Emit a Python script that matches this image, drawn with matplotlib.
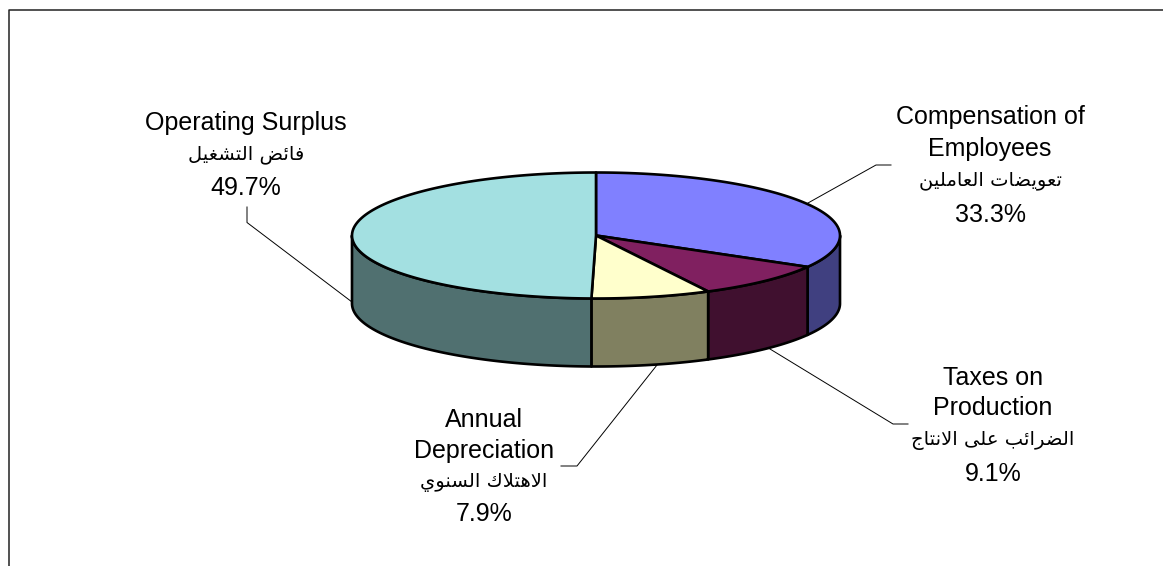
import numpy as np
import matplotlib
matplotlib.use('Agg')
import matplotlib.pyplot as plt
from matplotlib.patches import Polygon

plt.rcParams['font.family'] = ['Liberation Sans', 'DejaVu Sans']

# pie slices, clockwise from the top
names = ['Compensation of\nEmployees', 'Taxes on\nProduction', 'Annual\nDepreciation', 'Operating Surplus']
names_ar = ['تعويضات العاملين', 'الضرائب على الانتاج', 'الاهتلاك السنوي', 'فائض التشغيل']
values = [33.3, 9.1, 7.9, 49.7]
top_colors = ['#8080FF', '#802060', '#FFFFCC', '#A3E0E1']
side_colors = ['#404080', '#40102F', '#808060', '#507070']

# pixel layout of the pie
cx, cy = 596, 235.5
rx, ry = 244, 63
depth = 68

# label centres (x, y of each line) and leader lines
label_x = [990, 993, 484, 246]
label_y = [[117, 149, 180, 215], [378, 408, 441, 474], [420, 451, 482, 514], [123, 155, 188]]
leaders = [[(891, 165), (876, 165), (808, 203)],
           [(908, 424), (893, 424), (770, 349)],
           [(561, 466), (577, 466), (657, 365)],
           [(247, 207), (247, 222.5), (352, 302)]]

# presentation forms: isolated, final, initial, medial
forms = {'ا': (0xFE8D, 0xFE8E), 'ر': (0xFEAD, 0xFEAE), 'و': (0xFEED, 0xFEEE), 'ى': (0xFEEF, 0xFEF0)}
for ch, code in zip('ئبتجسشضعغفكلمنهي',
                    [0xFE89, 0xFE8F, 0xFE95, 0xFE9D, 0xFEB1, 0xFEB5, 0xFEBD, 0xFEC9,
                     0xFECD, 0xFED1, 0xFED9, 0xFEDD, 0xFEE1, 0xFEE5, 0xFEE9, 0xFEF1]):
    forms[ch] = (code, code + 1, code + 2, code + 3)


# matplotlib does no arabic shaping, so pick the glyphs here and reverse them
def shape(text):
    out = []
    prev_joins = False
    i = 0
    while i < len(text):
        ch = text[i]
        if ch == ' ':
            out.append(ch)
            prev_joins = False
            i += 1
            continue
        if ch == 'ل' and i + 1 < len(text) and text[i + 1] == 'ا':
            out.append(chr(0xFEFC if prev_joins else 0xFEFB))
            prev_joins = False
            i += 2
            continue
        f = forms[ch]
        next_letter = i + 1 < len(text) and text[i + 1] != ' '
        if len(f) == 4 and next_letter:
            out.append(chr(f[3] if prev_joins else f[2]))
            prev_joins = True
        else:
            out.append(chr(f[1] if prev_joins else f[0]))
            prev_joins = False
        i += 1
    return ''.join(out[::-1])


def arc(a, b, dy=0):
    t = np.radians(np.linspace(a, b, 120))
    return np.column_stack([cx + rx * np.sin(t), cy + dy - ry * np.cos(t)])


fig = plt.figure(figsize=(11.63, 5.66), dpi=100)
ax = fig.add_axes([0, 0, 1, 1])
ax.set_xlim(0, 1163)
ax.set_ylim(566, 0)
ax.axis('off')

# outer frame
ax.plot([8.5, 8.5, 1163], [566, 10, 10], color='#222222', lw=1.1)

edges = np.concatenate([[0], np.cumsum(values)]) / sum(values) * 360

# walls first, only the part facing the viewer
for i in range(len(values)):
    a = max(edges[i], 90)
    b = min(edges[i + 1], 270)
    if a < b:
        pts = np.vstack([arc(a, b), arc(a, b, depth)[::-1]])
        ax.add_patch(Polygon(pts, closed=True, fc=side_colors[i], ec='black', lw=1.9, joinstyle='round'))

# top faces
for i in range(len(values)):
    pts = np.vstack([[(cx, cy)], arc(edges[i], edges[i + 1])])
    ax.add_patch(Polygon(pts, closed=True, fc=top_colors[i], ec='black', lw=1.9, joinstyle='round'))

for pts in leaders:
    xs, ys = zip(*pts)
    ax.plot(xs, ys, color='black', lw=0.7)

# labels, one text per line
for i in range(len(values)):
    lines = names[i].split('\n')
    ys = label_y[i]
    for line, y in zip(lines, ys):
        ax.text(label_x[i], y, line, ha='center', va='center', fontsize=18, color='black')
    ax.text(label_x[i], ys[len(lines)], shape(names_ar[i]), ha='center', va='center',
            fontsize=14, color='black', family='DejaVu Sans')
    ax.text(label_x[i], ys[len(lines) + 1], '%.1f%%' % values[i], ha='center', va='center',
            fontsize=18, color='black')

fig.savefig('out.png', dpi=100)
